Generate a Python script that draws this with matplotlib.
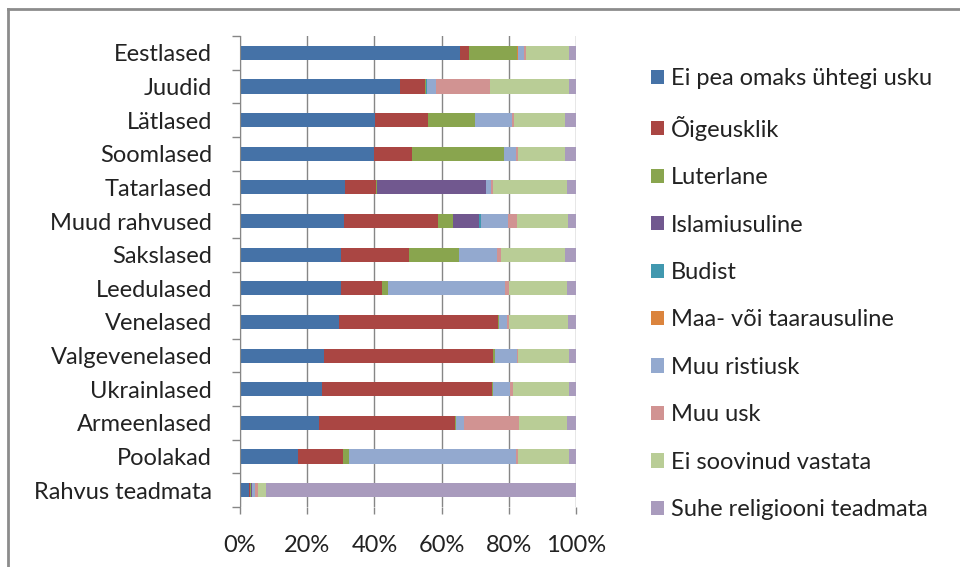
import numpy as np
import matplotlib
matplotlib.use('Agg')
import matplotlib.pyplot as plt
from matplotlib.patches import Patch
from matplotlib.lines import Line2D

plt.rcParams['font.family'] = ['Lato', 'DejaVu Sans']

categories = ['Eestlased', 'Juudid', 'Lätlased', 'Soomlased', 'Tatarlased', 'Muud rahvused',
              'Sakslased', 'Leedulased', 'Venelased', 'Valgevenelased', 'Ukrainlased',
              'Armeenlased', 'Poolakad', 'Rahvus teadmata']
series_names = ['Ei pea omaks ühtegi usku', 'Õigeusklik', 'Luterlane', 'Islamiusuline',
                'Budist', 'Maa- või taarausuline', 'Muu ristiusk', 'Muu usk',
                'Ei soovinud vastata', 'Suhe religiooni teadmata']

# percentages per category, one list per series
ei_pea   = [65.5, 47.5, 40.2, 39.8, 31.3, 31.1, 30.2, 30.2, 29.5, 24.9, 24.5, 23.4, 17.2, 2.6]
oigeusk  = [2.7, 7.6, 15.7, 11.5, 9.3, 27.9, 20.0, 12.0, 47.4, 50.5, 50.5, 40.6, 13.4, 0.4]
luter    = [14.2, 0.3, 13.9, 27.2, 0.3, 4.5, 15.0, 1.9, 0.3, 0.4, 0.4, 0.4, 1.8, 0.4]
islam    = [0.0, 0.0, 0.0, 0.0, 32.2, 7.7, 0.0, 0.0, 0.0, 0.0, 0.0, 0.0, 0.0, 0.1]
budist   = [0.0, 0.3, 0.0, 0.0, 0.0, 0.4, 0.0, 0.0, 0.0, 0.0, 0.0, 0.0, 0.0, 0.0]
maausk   = [0.2, 0.0, 0.2, 0.0, 0.0, 0.0, 0.0, 0.0, 0.0, 0.0, 0.0, 0.0, 0.0, 0.1]
muu_rist = [1.8, 2.5, 10.9, 3.6, 1.6, 8.1, 11.4, 34.9, 2.4, 6.6, 5.0, 2.2, 49.7, 0.8]
muu_usk  = [0.7, 16.1, 0.7, 0.7, 0.7, 2.7, 1.1, 1.1, 0.4, 0.3, 0.8, 16.5, 0.6, 1.0]
ei_soov  = [12.9, 23.7, 15.2, 14.0, 21.9, 15.2, 19.1, 17.2, 17.6, 15.3, 16.8, 14.2, 15.3, 2.3]
teadmata = [2.0, 2.0, 3.2, 3.2, 2.7, 2.4, 3.2, 2.7, 2.4, 2.0, 2.0, 2.7, 2.0, 92.3]

data = [ei_pea, oigeusk, luter, islam, budist, maausk, muu_rist, muu_usk, ei_soov, teadmata]
colors = ['#4572A7', '#AA4643', '#89A54E', '#71588F', '#4198AF', '#DB843D',
          '#93A9CF', '#D19392', '#B9CD96', '#A99BBD']

vals = np.array(data, dtype=float)
vals = vals / vals.sum(axis=0) * 100

fig = plt.figure(figsize=(9.6, 5.67), dpi=100)
ax = fig.add_axes([240/960, 60/567, 336/960, 471/567])

y = np.arange(len(categories))
left = np.zeros(len(categories))
for i in range(len(series_names)):
    ax.barh(y, vals[i], left=left, height=0.42, color=colors[i], label=series_names[i], zorder=3)
    left += vals[i]

ax.set_xlim(0, 100)
ax.set_ylim(len(categories) - 0.5, -0.5)
ax.set_xticks([0, 20, 40, 60, 80, 100])
ax.set_xticklabels(['0%', '20%', '40%', '60%', '80%', '100%'])
ax.set_yticks(y)
ax.set_yticklabels(categories)
ax.set_yticks(np.arange(-0.5, len(categories), 1), minor=True)
ax.tick_params(axis='y', which='major', length=0, pad=20, labelsize=17, colors='#222222')
ax.tick_params(axis='y', which='minor', length=6, width=1, color='#868686', direction='out')
ax.tick_params(axis='x', which='major', length=5, width=1, color='#868686', pad=15,
               labelsize=17, labelcolor='#222222')
ax.grid(axis='x', color='#868686', linewidth=1, zorder=0)
for s in ['top', 'right', 'bottom']:
    ax.spines[s].set_visible(False)
ax.spines['left'].set_color('#868686')
ax.spines['left'].set_zorder(4)

handles = [Patch(facecolor=c, edgecolor='none') for c in colors]
fig.legend(handles, series_names, loc='upper left', bbox_to_anchor=(630/960, 1 - 47/567),
           frameon=False, fontsize=17, handlelength=0.55, handleheight=0.55,
           handletextpad=0.3, labelspacing=1.12, labelcolor='#222222')

# chart border (left and top)
fig.add_artist(Line2D([8/960, 8/960], [0, 1 - 9/567], transform=fig.transFigure,
                      color='#8c8c8c', linewidth=2))
fig.add_artist(Line2D([8/960, 1], [1 - 9/567, 1 - 9/567], transform=fig.transFigure,
                      color='#8c8c8c', linewidth=2))

fig.savefig('out.png', dpi=100)
